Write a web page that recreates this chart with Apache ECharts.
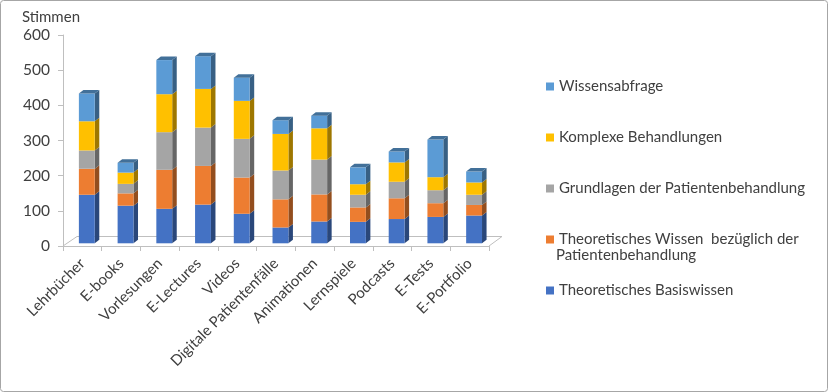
<!DOCTYPE html>
<html><head><meta charset="utf-8">
<script src="https://cdn.jsdelivr.net/npm/echarts@6/dist/echarts.min.js"></script>
<style>html,body{margin:0;padding:0;background:#fff}#c{width:828px;height:392px}</style>
</head><body><div id="c"></div>
<script>
const categories = ['Lehrbücher','E-books','Vorlesungen','E-Lectures','Videos','Digitale Patientenfälle','Animationen','Lernspiele','Podcasts','E-Tests','E-Portfolio'];
const seriesNames = ['Theoretisches Basiswissen','Theoretisches Wissen  bezüglich der Patientenbehandlung','Grundlagen der Patientenbehandlung','Komplexe Behandlungen','Wissensabfrage'];
const basiswissen = [138,107,98,110,84,45,62,61,69,75,79];
const theoWissen = [74,35,111,110,103,80,77,41,59,39,30];
const grundlagen = [52,27,107,109,110,82,99,36,47,37,29];
const komplex = [83,32,108,110,108,104,89,30,55,37,35];
const abfrage = [79,28,97,93,66,39,36,48,31,107,31];
const yTicks = [0,100,200,300,400,500,600];
const colors = ['#4472C4','#ED7D31','#A5A5A5','#FFC000','#5B9BD5'];

function shade(hex, f){
  const n = parseInt(hex.slice(1),16);
  const r = Math.round(((n>>16)&255)*f), g = Math.round(((n>>8)&255)*f), b = Math.round((n&255)*f);
  return 'rgb('+r+','+g+','+b+')';
}
const allVals = [basiswissen, theoWissen, grundlagen, komplex, abfrage];
const cum = categories.map(()=>0);
const series = [];
// floor
series.push({
  type:'custom', name:'__floor', silent:true, z:1,
  data:[[0]],
  renderItem:function(params, api){
    const cs = params.coordSys;
    const x = cs.x, y = cs.y + cs.height, w = cs.width;
    return {type:'polyline', shape:{points:[[x,y],[x+14,y-9.5],[x+w+13,y-9.5],[x+w,y]]},
      style:{stroke:'#bfbfbf', fill:null, lineWidth:1}};
  }
});
allVals.forEach((vals, si)=>{
  const data = vals.map((v,i)=>{ const b = cum[i]; cum[i]+=v; return [i, b, cum[i]]; });
  const col = colors[si];
  const isTop = si === allVals.length-1;
  series.push({
    type:'custom', name: seriesNames[si], z:2+si,
    itemStyle:{color:col},
    encode:{x:0, y:[1,2]},
    data:data,
    renderItem:function(params, api){
      const idx = api.value(0), b = api.value(1), t = api.value(2);
      const pb = api.coord([idx,b]), pt = api.coord([idx,t]);
      const band = api.size([1,0])[0];
      const w = band*0.41, left = pb[0]-band*0.09, right = left+w;
      const dx = band*0.117, dy = 3.5, lift = 2.7;
      const yb = pb[1]-lift, yt = pt[1]-lift;
      const ch = [
        {type:'polygon', shape:{points:[[right,yt],[right+dx,yt-dy],[right+dx,yb-dy],[right,yb]]}, style:{fill:shade(col,0.62)}},
        {type:'rect', shape:{x:left, y:yt, width:w, height:yb-yt}, style:{fill:col}}
      ];
      if(isTop){
        ch.push({type:'polygon', shape:{points:[[left,yt],[left+dx,yt-dy],[right+dx,yt-dy],[right,yt]]}, style:{fill:shade(col,0.72)}});
      }
      return {type:'group', children:ch};
    }
  });
});

const chart = echarts.init(document.getElementById('c'));
const font = 'Lato, "Open Sans", sans-serif';
chart.setOption({
  animation:false,
  color:colors,
  textStyle:{fontFamily:font},
  grid:{left:63, right:339, top:35, bottom:146, containLabel:false},
  xAxis:{type:'category', data:categories,
    axisLine:{lineStyle:{color:'#bfbfbf'}},
    axisTick:{show:true, length:5, lineStyle:{color:'#bfbfbf'}},
    axisLabel:{rotate:45, color:'#404040', fontSize:15, fontFamily:font, margin:15, interval:0}
  },
  yAxis:{type:'value', min:yTicks[0], max:yTicks[yTicks.length-1], interval:100,
    name:'Stimmen', nameLocation:'end', nameGap:10,
    nameTextStyle:{color:'#404040', fontSize:15, fontFamily:font, align:'center', padding:[0,24,0,0]},
    axisLine:{show:true, lineStyle:{color:'#bfbfbf'}},
    axisTick:{show:true, length:5, lineStyle:{color:'#bfbfbf'}},
    splitLine:{show:false},
    axisLabel:{color:'#404040', fontSize:15.5, fontFamily:font, margin:13}
  },
  legend:{orient:'vertical', left:541, top:74, itemWidth:8, itemHeight:8, itemGap:36, icon:'rect',
    data:seriesNames.slice().reverse(),
    formatter:function(n){ return n.indexOf('bezüglich')>=0 ? 'Theoretisches Wissen  bezüglich der' : n; },
    textStyle:{color:'#404040', fontSize:15, fontFamily:font}
  },
  graphic:[
    {type:'rect', shape:{x:0.5,y:0.5,width:827,height:391,r:3}, style:{fill:null, stroke:'#a6a6a6', lineWidth:1}, silent:true},
    {type:'text', left:556, top:248, style:{text:'Patientenbehandlung', fill:'#404040', font:'15px '+font}}
  ],
  series:series
});
</script></body></html>
